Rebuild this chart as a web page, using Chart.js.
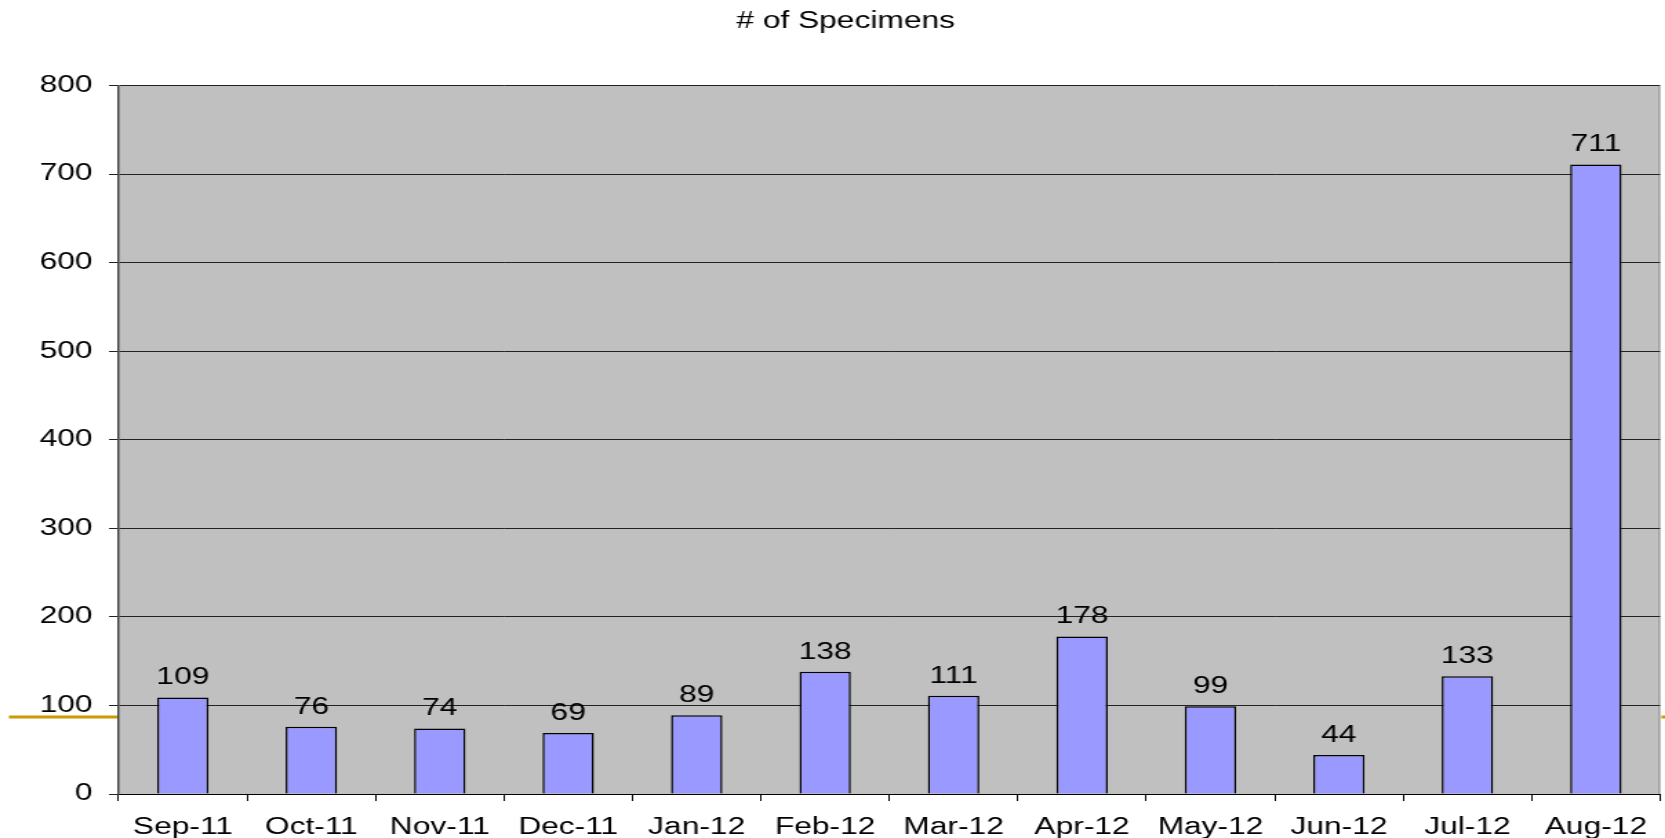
<!DOCTYPE html>
<html>
<head>
<meta charset="utf-8">
<script src="https://cdn.jsdelivr.net/npm/chart.js@4.4.1/dist/chart.umd.min.js"></script>
<style>
  html, body { margin: 0; padding: 0; background: #fff; overflow: hidden; }
  /* the original picture is stretched sideways, so we draw narrow and scale */
  #wrap { width: 1207px; height: 838px; transform: scaleX(1.3795); transform-origin: 0 0; }
</style>
</head>
<body>
<div id="wrap"><canvas id="chart"></canvas></div>
<script>
// data
const months = ["Sep-11", "Oct-11", "Nov-11", "Dec-11", "Jan-12", "Feb-12",
                "Mar-12", "Apr-12", "May-12", "Jun-12", "Jul-12", "Aug-12"];
const specimens = [109, 76, 74, 69, 89, 138, 111, 178, 99, 44, 133, 711];
const yTicks = { min: 0, max: 800, step: 100 };
const refLineValue = 87; // the orange line showing at the edges

const FONT = "'Liberation Sans', Arial, sans-serif";

// grey plot background + right border
const plotBg = {
    id: 'plotBg',
    beforeDraw(chart) {
        const { ctx, chartArea: a } = chart;
        ctx.save();
        ctx.fillStyle = '#c0c0c0';
        ctx.fillRect(a.left, a.top, a.right - a.left, a.bottom - a.top);
        ctx.strokeStyle = '#8c8c8c';
        ctx.lineWidth = 1;
        ctx.beginPath();
        ctx.moveTo(a.right - 0.5, a.top);
        ctx.lineTo(a.right - 0.5, a.bottom);
        ctx.stroke();
        ctx.restore();
    }
};

// orange reference line, only visible outside the plot
const refLine = {
    id: 'refLine',
    afterDraw(chart) {
        const { ctx, chartArea: a } = chart;
        const y = chart.scales.y.getPixelForValue(refLineValue);
        ctx.save();
        ctx.strokeStyle = '#cc9900';
        ctx.lineWidth = 3;
        ctx.beginPath();
        ctx.moveTo(6.5, y);
        ctx.lineTo(a.left - 1, y);
        ctx.moveTo(a.right + 1, y);
        ctx.lineTo(chart.width, y);
        ctx.stroke();
        ctx.restore();
    }
};

// value labels above bars
const barLabels = {
    id: 'barLabels',
    afterDatasetsDraw(chart) {
        const { ctx } = chart;
        const meta = chart.getDatasetMeta(0);
        ctx.save();
        ctx.font = "23px " + FONT;
        ctx.fillStyle = '#000';
        ctx.textAlign = 'center';
        ctx.textBaseline = 'alphabetic';
        meta.data.forEach((bar, i) => {
            ctx.fillText(String(specimens[i]), bar.x, bar.y - 13);
        });
        ctx.restore();
    }
};

new Chart(document.getElementById('chart'), {
    type: 'bar',
    data: {
        labels: months,
        datasets: [{
            label: '# of Specimens',
            data: specimens,
            backgroundColor: '#9999ff',
            borderColor: '#000',
            borderWidth: 1.5,
            barPercentage: 0.4,
            categoryPercentage: 1.0,
        }]
    },
    options: {
        responsive: true,
        maintainAspectRatio: false,
        animation: false,
        layout: { padding: { left: 21, right: 2, top: 0, bottom: 0 } },
        plugins: {
            legend: { display: false },
            tooltip: { enabled: false },
            title: {
                display: true,
                text: '# of Specimens',
                color: '#000',
                font: { family: FONT, size: 23, weight: 'normal' },
                padding: { top: 8, bottom: 50 },
            },
        },
        scales: {
            x: {
                offset: true,
                afterFit(scale) { scale.height = 44; },
                grid: {
                    offset: true,
                    drawOnChartArea: false,
                    drawTicks: true,
                    tickLength: 7,
                    color: '#000',
                },
                border: { color: '#000', width: 1 },
                ticks: {
                    color: '#000',
                    padding: 13,
                    maxRotation: 0,
                    font: { family: FONT, size: 23 },
                },
            },
            y: {
                min: yTicks.min,
                max: yTicks.max,
                afterFit(scale) { scale.width = 65; },
                grid: {
                    color: '#222',
                    lineWidth: 1,
                    drawTicks: true,
                    tickLength: 7,
                },
                border: { color: '#444', width: 1.5 },
                ticks: {
                    stepSize: yTicks.step,
                    color: '#000',
                    padding: 12,
                    font: { family: FONT, size: 23 },
                },
            },
        },
    },
    plugins: [plotBg, refLine, barLabels],
});
</script>
</body>
</html>
